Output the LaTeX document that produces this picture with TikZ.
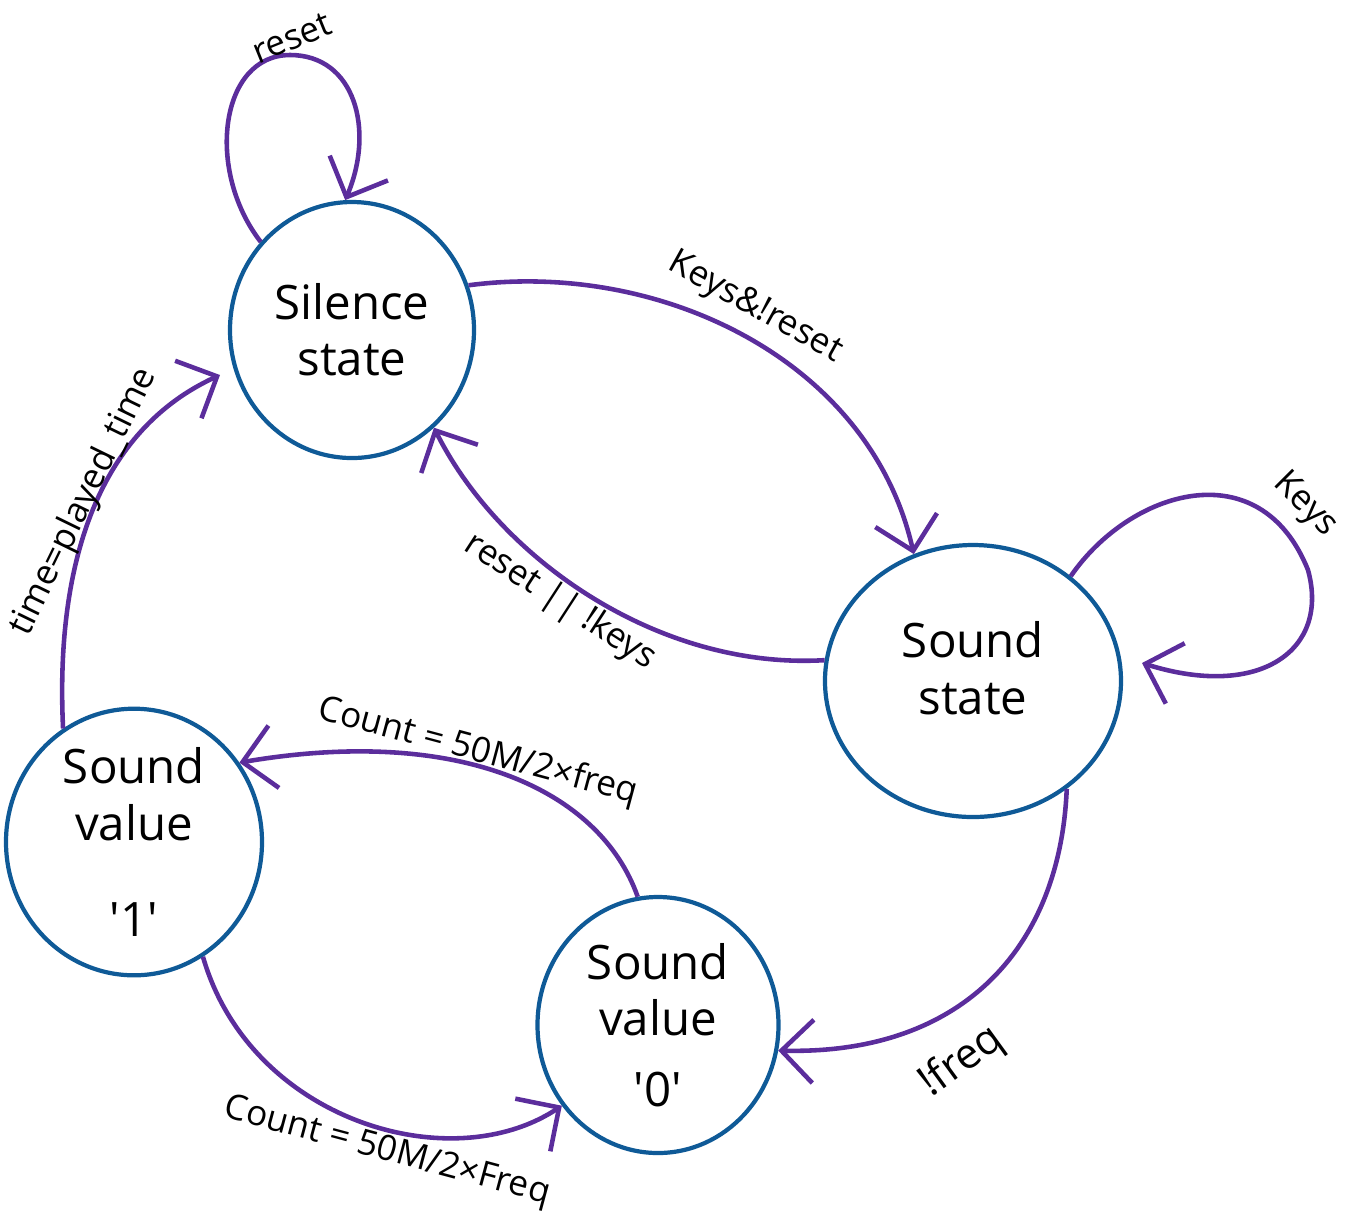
\documentclass[tikz,border=0pt]{standalone}
\usepackage{fontspec}
\setmainfont{Open Sans}
\usetikzlibrary{arrows.meta,shapes.geometric}
\definecolor{ring}{HTML}{0F5A97}
\definecolor{trans}{HTML}{5B2D9C}

\begin{document}
\begin{tikzpicture}[
  state/.style={draw=ring,line width=1.2pt,ellipse,inner sep=0pt,align=center,font=\fontsize{13.5}{16}\selectfont},
  edge/.style={trans,line width=1.3pt,-{Straight Barb[length=9pt,width=18pt]}},
  lbl/.style={font=\fontsize{10}{12}\selectfont,inner sep=0.5pt}]
  \useasboundingbox (0,0) rectangle (13.56,-12.17);

  \node[state,minimum width=2.44cm,minimum height=2.56cm] (silence) at (3.52,-3.30) {Silence\\state};
  \node[state,minimum width=2.96cm,minimum height=2.72cm] (soundst) at (9.73,-6.81) {Sound\\state\\[-0.3cm]};
  \node[state,minimum width=2.56cm,minimum height=2.54cm] (val1) at (1.34,-8.42) {Sound\\value\\[0.4cm]\textquotesingle1\textquotesingle};
  \node[state,minimum width=2.41cm,minimum height=2.56cm] (val0) at (6.58,-10.25) {Sound\\value\\[0.15cm]\textquotesingle0\textquotesingle};

  \coordinate (keystip) at (11.42,-6.63);
  \coordinate (timetip) at (2.20,-3.75);

  \draw[edge] (silence.136) .. controls (2.05,-1.7) and (2.2,-0.55) .. (2.9,-0.55)
    .. controls (3.55,-0.55) and (3.75,-1.3) .. (silence.93);
  \draw[edge] (silence.21) .. controls (6.6,-2.6) and (8.7,-3.6) .. (soundst.115);
  \draw[edge] (soundst.172) .. controls (6.6,-6.7) and (5.0,-5.6) .. (silence.-50);
  \draw[edge] (soundst.47) .. controls (11.3,-4.9) and (12.6,-4.5) .. (13.08,-5.7)
    .. controls (13.3,-6.5) and (12.6,-7.0) .. (keystip);
  \draw[edge] (soundst.-49) .. controls (10.6,-9.5) and (9.6,-10.55) .. (val0.-12);
  \draw[edge] (val0.99) .. controls (6.0,-7.9) and (4.6,-7.25) .. (val1.37);
  \draw[edge] (val1.-59) .. controls (2.5,-11.2) and (4.5,-11.8) .. (val0.220);
  \draw[edge] (val1.122) .. controls (0.55,-5.6) and (1.0,-4.3) .. (timetip);

  \node[lbl,rotate=22] (lreset) at (2.92,-0.38) {reset};
  \node[lbl,rotate=-29] (lkeysreset) at (7.55,-3.08) {Keys\&!reset};
  \node[lbl,rotate=-33] (lresetkeys) at (5.60,-6.02) {reset || !keys};
  \node[lbl,rotate=-45] (lkeys) at (13.05,-5.05) {Keys};
  \node[lbl,rotate=36,font=\fontsize{12}{14}\selectfont] (lfreq) at (9.62,-10.62) {!freq};
  \node[lbl,rotate=-15] (lcounttop) at (4.78,-7.52) {Count = 50M/2×freq};
  \node[lbl,rotate=-15] (lcountbot) at (3.87,-11.52) {Count = 50M/2×Freq};
  \node[lbl,rotate=64] (ltime) at (0.84,-5.02) {time=played\_time};
\end{tikzpicture}
\end{document}
